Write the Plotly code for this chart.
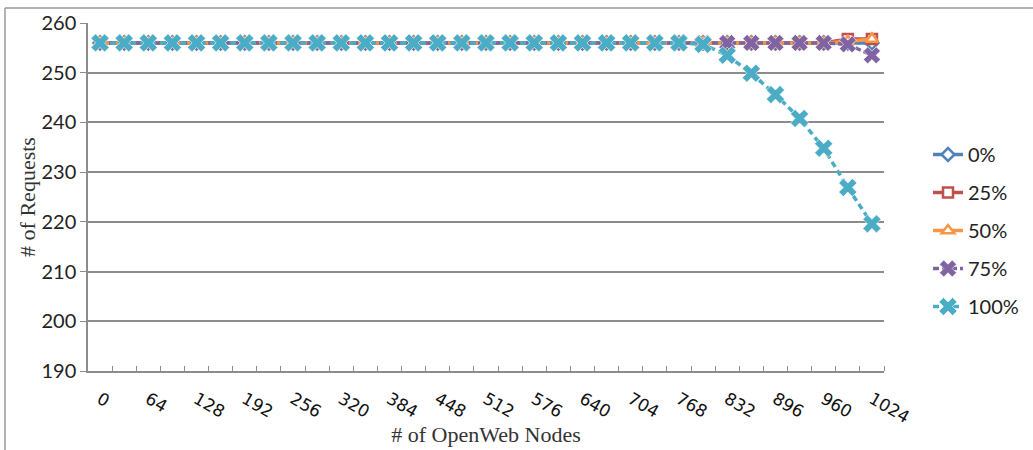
import plotly.graph_objects as go

# OpenWeb node counts (x categories)
nodes = [0, 32, 64, 96, 128, 160, 192, 224, 256, 288, 320, 352, 384, 416, 448,
         480, 512, 544, 576, 608, 640, 672, 704, 736, 768, 800, 832, 864, 896,
         928, 960, 992, 1024]
tick_labels = [0, 64, 128, 192, 256, 320, 384, 448, 512, 576, 640, 704, 768,
               832, 896, 960, 1024]

# Number of requests served per scenario
req_0 = [256] * 33
req_25 = [256] * 31 + [256.8, 256.8]
req_50 = [256] * 31 + [256.3, 256.8]
req_75 = [256] * 31 + [255.7, 253.5]
req_100 = [256] * 25 + [255.7, 253.5, 249.9, 245.6, 240.8, 234.8, 226.9, 219.6]

series = [
    ("0%", req_0, "#4F81BD", "diamond", "solid", 10, "white", 2.5),
    ("25%", req_25, "#C0504D", "square", "solid", 10, "white", 2.5),
    ("50%", req_50, "#F79646", "triangle-up", "solid", 11, "white", 2.5),
    ("75%", req_75, "#8064A2", "x", "6px,3px", 15, None, 0.6),
    ("100%", req_100, "#4BACC6", "x", "6px,4px", 16, None, 0.6),
]

# plot-area geometry in pixels
W, H = 1033, 450
L, R, T, B = 88, 149, 23, 79
pw, ph = W - L - R, H - T - B

fig = go.Figure()
for name, vals, color, sym, dash, size, fill, lw in series:
    fig.add_trace(go.Scatter(
        x=nodes, y=vals, name=name, legendgroup=name,
        mode="lines+markers",
        line=dict(color=color, width=3.5, dash=dash),
        marker=dict(symbol=sym, size=size,
                    color=fill if fill else color,
                    line=dict(color=color if fill else "white", width=lw)),
    ))

fig.update_layout(
    width=W, height=H,
    margin=dict(l=L, r=R, t=T, b=B, autoexpand=False),
    paper_bgcolor="white", plot_bgcolor="white",
    showlegend=True,
    legend=dict(
        x=(928 - L) / pw, y=(H - B - 135) / ph, xanchor="left", yanchor="top",
        font=dict(family="Lato, Open Sans, sans-serif", size=20, color="#222"),
        tracegroupgap=9, bgcolor="rgba(0,0,0,0)",
    ),
    xaxis=dict(
        range=[-16, 1040], automargin=False,
        tickmode="array", tickvals=tick_labels,
        ticktext=[str(v) for v in tick_labels],
        tickangle=30, ticks="", ticklabelstandoff=10,
        tickfont=dict(family="DejaVu Sans, sans-serif", size=17, color="#111"),
        showgrid=False, zeroline=False,
        showline=True, linecolor="#8c8c8c", linewidth=1.5,
        minor=dict(tickmode="array", tickvals=[16 + 32 * k for k in range(33)],
                   ticks="inside", ticklen=5, tickcolor="#8c8c8c",
                   tickwidth=1, showgrid=False),
        title=dict(text="# of OpenWeb Nodes", standoff=0,
                   font=dict(family="Liberation Serif, serif", size=22, color="#333")),
    ),
    yaxis=dict(
        range=[190, 260], dtick=10, tick0=190, automargin=False,
        ticks="outside", ticklen=6, tickcolor="#8c8c8c", tickwidth=1,
        tickfont=dict(family="Lato, Open Sans, sans-serif", size=20, color="#222"),
        showgrid=True, gridcolor="#8c8c8c", gridwidth=1.5,
        zeroline=False,
        showline=True, linecolor="#8c8c8c", linewidth=1.5,
        title=dict(text="# of Requests", standoff=0,
                   font=dict(family="Liberation Serif, serif", size=22, color="#333")),
    ),
    shapes=[
        # outer chart frame (top and left edges)
        dict(type="line", xref="paper", yref="paper",
             x0=(5 - L) / pw, x1=(W + 5 - L) / pw,
             y0=(H - B - 8) / ph, y1=(H - B - 8) / ph,
             line=dict(color="#9a9a9a", width=1.5)),
        dict(type="line", xref="paper", yref="paper",
             x0=(5 - L) / pw, x1=(5 - L) / pw,
             y0=(H - B - 8) / ph, y1=-(B + 5) / ph,
             line=dict(color="#9a9a9a", width=1.5)),
    ],
)

fig.write_html("out.html")
